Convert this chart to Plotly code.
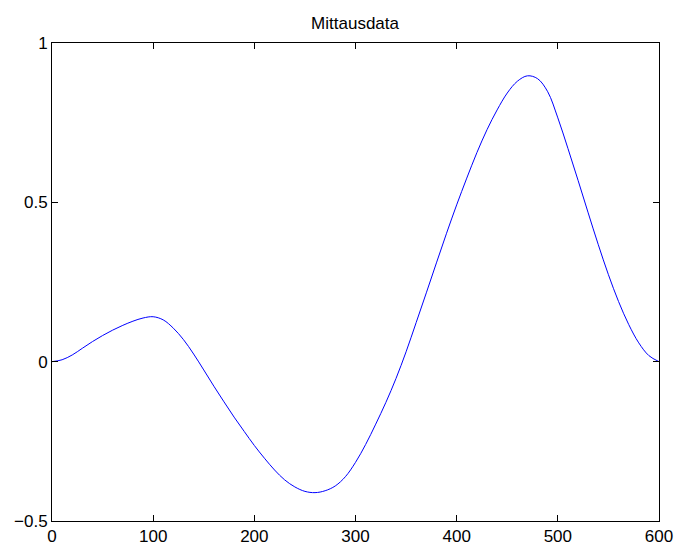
import plotly.graph_objects as go

# Values
x_vals = [0, 10, 20, 30, 40, 50, 60, 70, 80, 90,
          100, 110, 120, 130, 140, 150, 160, 170, 180, 190,
          200, 210, 220, 230, 240, 250, 260, 270, 280, 290,
          300, 310, 320, 330, 340, 350, 360, 370, 380, 390,
          400, 410, 420, 430, 440, 450, 460, 470, 480, 490,
          500, 510, 520, 530, 540, 550, 560, 570, 580, 590, 600]
y_vals = [0.000, 0.006, 0.021, 0.042, 0.063, 0.082, 0.099, 0.114, 0.127, 0.137,
          0.141, 0.131, 0.105, 0.069, 0.024, -0.026, -0.077, -0.126, -0.174, -0.219,
          -0.263, -0.303, -0.340, -0.371, -0.393, -0.407, -0.411, -0.405, -0.390, -0.361,
          -0.316, -0.260, -0.196, -0.128, -0.053, 0.031, 0.123, 0.216, 0.310, 0.403,
          0.492, 0.576, 0.656, 0.728, 0.790, 0.843, 0.880, 0.897, 0.888, 0.847,
          0.765, 0.669, 0.569, 0.467, 0.367, 0.273, 0.189, 0.117, 0.059, 0.019, 0.000]

x_ticks = [0, 100, 200, 300, 400, 500, 600]
y_ticks = [-0.5, 0, 0.5, 1]
title_text = "Mittausdata"

fig = go.Figure()
fig.add_trace(go.Scatter(
    x=x_vals, y=y_vals, mode="lines",
    line=dict(color="#0000FF", width=1, shape="spline", smoothing=1),
    showlegend=False, hoverinfo="skip",
))

axis_common = dict(
    showgrid=False, zeroline=False, showline=True, linecolor="black",
    linewidth=1, mirror="ticks", ticks="inside", ticklen=6, tickcolor="black",
    tickwidth=1, automargin=False,
    tickfont=dict(family="Liberation Sans, Arial, sans-serif",
                  size=17, color="black"),
)

fig.update_layout(
    template="none",
    width=675, height=546,
    margin=dict(l=52, r=16, t=43, b=25),
    paper_bgcolor="white", plot_bgcolor="white",
    title=dict(text=title_text, x=0.526, xanchor="center", y=0.958,
               yanchor="middle",
               font=dict(family="Liberation Sans, Arial, sans-serif",
                         size=17, color="black")),
    xaxis=dict(range=[0, 600], tickvals=x_ticks, **axis_common),
    yaxis=dict(range=[-0.5, 1], tickvals=y_ticks, **axis_common),
)

fig.write_html("out.html")
